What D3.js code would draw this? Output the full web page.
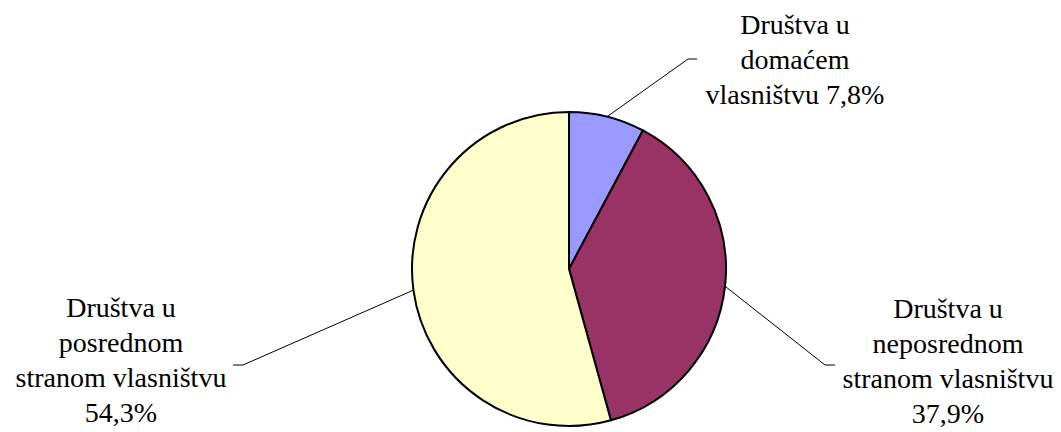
<!DOCTYPE html>
<html>
<head>
<meta charset="utf-8">
<script src="https://cdn.jsdelivr.net/npm/d3@7"></script>
<style>
  html, body { margin: 0; padding: 0; background: #fff; }
  #wrap { position: relative; width: 1061px; height: 432px; }
  svg { position: absolute; left: 0; top: 0; }
  .lbl { position: absolute; font-family: "Liberation Serif", "Times New Roman", serif; font-size: 28px; line-height: 35px; text-align: center; white-space: nowrap; color: #000; transform: translateX(-50%); }
</style>
</head>
<body>
<div id="wrap"><svg id="chart" width="1061" height="432"></svg></div>
<script>
const categories = [
  "Društva u domaćem vlasništvu",
  "Društva u neposrednom stranom vlasništvu",
  "Društva u posrednom stranom vlasništvu"
];
const values = [7.8, 37.9, 54.3];
const labelLines = [
  ["Društva u", "domaćem", "vlasništvu 7,8%"],
  ["Društva u", "neposrednom", "stranom vlasništvu", "37,9%"],
  ["Društva u", "posrednom", "stranom vlasništvu", "54,3%"]
];
const colors = ["#9999FF", "#993366", "#FFFFCC"];

// layout
const cx = 569, cy = 269, R = 157;
const layout = [
  { elbow: [688, 59], end: [697, 59], tx: 795, ty: 33 },
  { elbow: [825, 365], end: [835, 365], tx: 948, ty: 317 },
  { elbow: [243, 365], end: [233, 365], tx: 121, ty: 316 }
];
const lineH = 35;

const svg = d3.select("#chart");
const g = svg.append("g").attr("transform", `translate(${cx},${cy})`);

const pie = d3.pie().sort(null).value(d => d);
const arcs = pie(values);
const arc = d3.arc().innerRadius(0).outerRadius(R);
const color = d3.scaleOrdinal().domain(categories).range(colors);

g.selectAll("path.slice")
  .data(arcs)
  .join("path")
  .attr("class", "slice")
  .attr("d", arc)
  .attr("fill", (d, i) => color(categories[i]))
  .attr("stroke", "#000")
  .attr("stroke-width", 2)
  .attr("stroke-linejoin", "round");

const wrap = d3.select("#wrap");
arcs.forEach((a, i) => {
  const mid = (a.startAngle + a.endAngle) / 2;
  const sx = cx + R * Math.sin(mid), sy = cy - R * Math.cos(mid);
  const L = layout[i];
  svg.append("polyline")
    .attr("points", [[sx, sy], L.elbow, L.end].map(p => p.join(",")).join(" "))
    .attr("fill", "none")
    .attr("stroke", "#000")
    .attr("stroke-width", 1);
  // baseline of first line at L.ty: line box 35px, baseline ~ 26px below top for 28px serif
  const div = wrap.append("div")
    .attr("class", "lbl")
    .style("left", L.tx + "px")
    .style("top", (L.ty - 26) + "px");
  labelLines[i].forEach((ln, j) => {
    div.append("div").text(ln);
  });
});
</script>
</body>
</html>
